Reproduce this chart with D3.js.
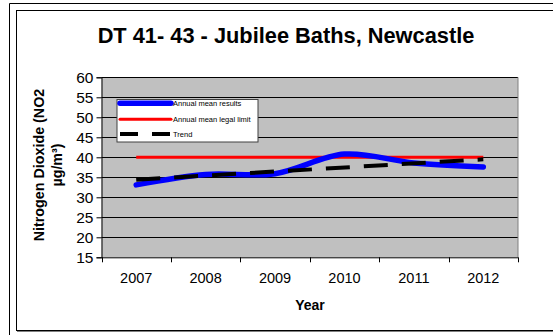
<!DOCTYPE html>
<html>
<head>
<meta charset="utf-8">
<script src="https://cdn.jsdelivr.net/npm/d3@7"></script>
<style>
  html, body { margin: 0; padding: 0; background: #fff; }
  svg { display: block; font-family: "Liberation Sans", Arial, sans-serif; }
</style>
</head>
<body>
<svg id="chart" width="553" height="335"></svg>
<script>
// NO2 annual means at the Jubilee Baths diffusion tubes
const years = ["2007", "2008", "2009", "2010", "2011", "2012"];
const annualMean = [33.1, 35.7, 35.9, 40.8, 38.6, 37.6];
const legalLimit = [40, 40, 40, 40, 40, 40];
const trendYears = ["2007", "2012"];
const trendValues = [34.4, 39.5];
const yTicks = [15, 20, 25, 30, 35, 40, 45, 50, 55, 60];
const legendLabels = ["Annual mean results", "Annual mean legal limit", "Trend"];

const svg = d3.select("#chart");

// outer and inner frames
svg.append("path").attr("d", "M9.5,335 V3.5 H553").attr("fill", "none").attr("stroke", "#000").attr("stroke-width", 1);
svg.append("rect").attr("x", 16.5).attr("y", 10.5).attr("width", 560).attr("height", 320)
  .attr("fill", "#fff").attr("stroke", "#000").attr("stroke-width", 1);
svg.append("line").attr("x1", 17).attr("x2", 553).attr("y1", 331.5).attr("y2", 331.5)
  .attr("stroke", "#808080").attr("stroke-width", 1);

const plot = { left: 101.5, right: 518, top: 77.3, bottom: 257.3 };

const x = d3.scaleBand().domain(years).range([plot.left, plot.right]).padding(0);
const y = d3.scaleLinear().domain([15, 60]).range([plot.bottom, plot.top]);
const cx = d => x(d) + x.bandwidth() / 2;

// title
svg.append("text").attr("x", 286).attr("y", 43).attr("text-anchor", "middle")
  .attr("font-size", 21.8).attr("font-weight", "bold").attr("fill", "#000")
  .text("DT 41- 43 - Jubilee Baths, Newcastle");

// plot background
svg.append("rect").attr("x", plot.left).attr("y", plot.top)
  .attr("width", plot.right - plot.left).attr("height", plot.bottom - plot.top)
  .attr("fill", "#c0c0c0");

// gridlines
svg.append("g").selectAll("line").data(yTicks.slice(1)).join("line")
  .attr("x1", plot.left).attr("x2", plot.right)
  .attr("y1", d => Math.round(y(d)) + 0.5).attr("y2", d => Math.round(y(d)) + 0.5)
  .attr("stroke", "#000").attr("stroke-width", 1);

// plot border right side
svg.append("line").attr("x1", plot.right).attr("x2", plot.right)
  .attr("y1", plot.top).attr("y2", plot.bottom).attr("stroke", "#808080").attr("stroke-width", 1);

// y axis
const yAxis = svg.append("g").attr("transform", `translate(${plot.left},0)`)
  .call(d3.axisLeft(y).tickValues(yTicks).tickSize(5).tickPadding(3));
yAxis.select(".domain").attr("stroke", "#000");
yAxis.selectAll(".tick line").attr("stroke", "#000");
yAxis.selectAll("text").attr("font-size", 15.5).attr("fill", "#000")
  .attr("font-family", "Liberation Sans, Arial, sans-serif");

// x axis with tick marks on category boundaries
const xAxisG = svg.append("g").attr("transform", `translate(0,${plot.bottom})`);
xAxisG.append("line").attr("x1", plot.left).attr("x2", plot.right).attr("y1", 0.5).attr("y2", 0.5)
  .attr("stroke", "#000");
const bounds = years.map(d => x(d)).concat([x(years[years.length - 1]) + x.bandwidth()]);
xAxisG.selectAll("line.tk").data(bounds).join("line").attr("class", "tk")
  .attr("x1", d => Math.round(d) + 0.5).attr("x2", d => Math.round(d) + 0.5)
  .attr("y1", 0).attr("y2", 5).attr("stroke", "#000");
xAxisG.selectAll("text").data(years).join("text")
  .attr("x", d => cx(d)).attr("y", 26).attr("text-anchor", "middle")
  .attr("font-size", 14.5).attr("fill", "#000").text(d => d);

// axis titles
svg.append("text").attr("x", 310).attr("y", 310).attr("text-anchor", "middle")
  .attr("font-size", 14).attr("font-weight", "bold").text("Year");
const yt = svg.append("text").attr("transform", "translate(43.5,165) rotate(-90)")
  .attr("text-anchor", "middle").attr("font-size", 14.3).attr("font-weight", "bold");
yt.append("tspan").attr("x", 0).attr("dy", 0).text("Nitrogen Dioxide (NO2");
yt.append("tspan").attr("x", 0).attr("dy", 18.5).text("µg/m³)");

// series
const line = d3.line().x(d => cx(d[0])).y(d => y(d[1]));

svg.append("path").datum(years.map((d, i) => [d, legalLimit[i]]))
  .attr("d", line).attr("fill", "none").attr("stroke", "#ff0000").attr("stroke-width", 3);

svg.append("path").datum(years.map((d, i) => [d, annualMean[i]]))
  .attr("d", line.curve(d3.curveCatmullRom.alpha(0.5)))
  .attr("fill", "none").attr("stroke", "#0000ff").attr("stroke-width", 5.5)
  .attr("stroke-linecap", "round").attr("stroke-linejoin", "round");

svg.append("path").datum(trendYears.map((d, i) => [d, trendValues[i]]))
  .attr("d", d3.line().x(d => cx(d[0])).y(d => y(d[1])))
  .attr("fill", "none").attr("stroke", "#000").attr("stroke-width", 4)
  .attr("stroke-dasharray", "24,14");

// legend
const lg = svg.append("g").attr("transform", "translate(117,99.5)");
lg.append("rect").attr("x", 0).attr("y", 0).attr("width", 141).attr("height", 42.5)
  .attr("fill", "#fff").attr("stroke", "#404040").attr("stroke-width", 1);
const styles = [
  { stroke: "#0000ff", w: 5.5, dash: null, cap: "round" },
  { stroke: "#ff0000", w: 3, dash: null, cap: "round" },
  { stroke: "#000", w: 4, dash: "18,14", cap: "butt" }
];
const rowY = [3.8, 19.8, 34.5];
legendLabels.forEach((t, i) => {
  lg.append("line").attr("x1", 3).attr("x2", 54).attr("y1", rowY[i]).attr("y2", rowY[i])
    .attr("stroke", styles[i].stroke).attr("stroke-width", styles[i].w)
    .attr("stroke-dasharray", styles[i].dash).attr("stroke-linecap", styles[i].cap);
  lg.append("text").attr("x", 56).attr("y", rowY[i] + 3).attr("font-size", 7.5)
    .attr("fill", "#000").text(t);
});
</script>
</body>
</html>
